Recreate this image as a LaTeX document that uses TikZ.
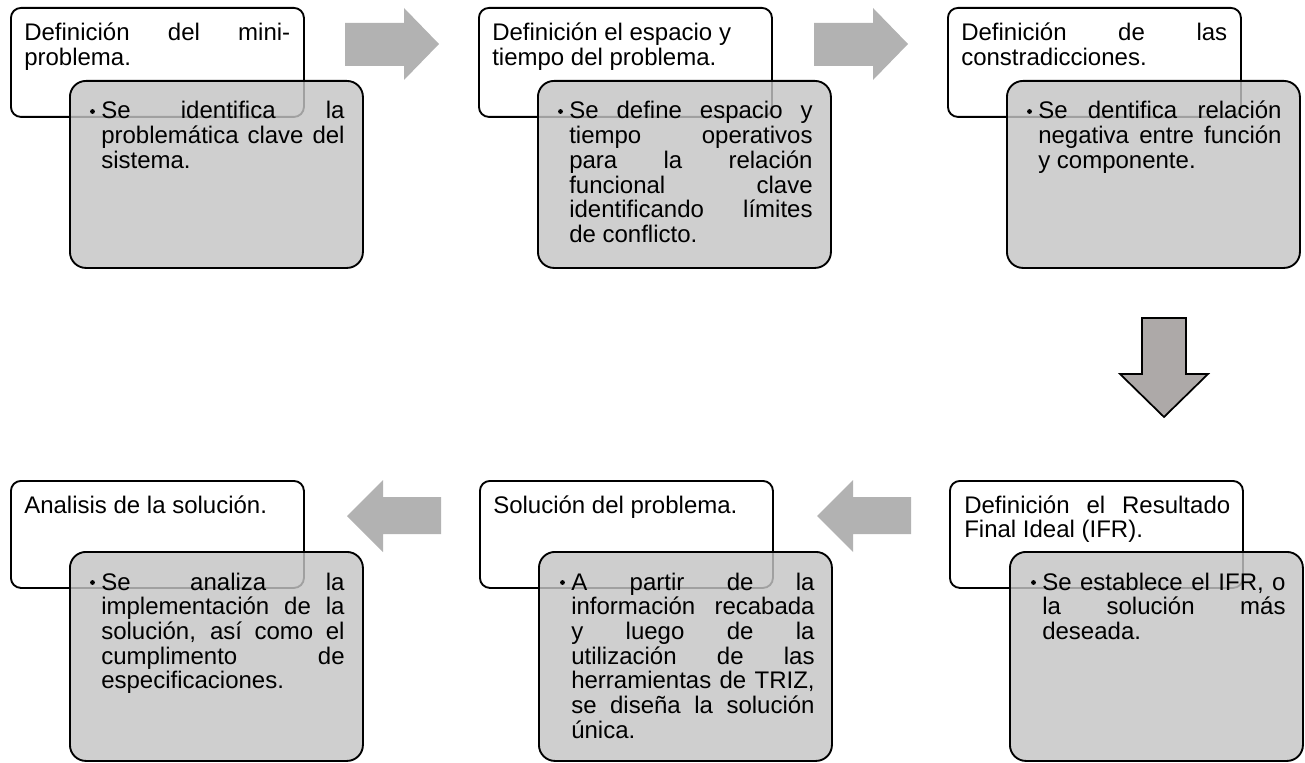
\documentclass[tikz,border=0pt]{standalone}
\usepackage{fontspec}
\setmainfont{Liberation Sans}
\definecolor{boxgray}{RGB}{196,196,196}
\definecolor{arrowgray}{RGB}{178,178,178}
\definecolor{downgray}{RGB}{173,169,168}
\tikzset{
  whitebox/.style={draw, line width=1.4pt, rounded corners=7.5pt, fill=white,
    anchor=north west, inner sep=0pt, minimum width=293*0.75pt, minimum height=#1*0.75pt},
  graybox/.style={draw, line width=1.4pt, rounded corners=12pt, fill=boxgray, fill opacity=0.82,
    anchor=north west, inner sep=0pt, minimum width=293*0.75pt, minimum height=#1*0.75pt},
  titletext/.style={anchor=base west, inner sep=0pt, text width=199.5pt, align=justify,
    font=\fontsize{18pt}{18.5pt}\selectfont},
  bodytext/.style={anchor=base west, inner sep=0pt, text width=182.5pt, align=justify,
    font=\fontsize{18pt}{18.5pt}\selectfont},
  blockarrow/.style={fill=arrowgray},
  downarrow/.style={fill=downgray, draw=black, line width=1.3pt, line join=miter},
  bulletdot/.style={fill=black}
}
\begin{document}
\hyphenpenalty=10000
\tolerance=10000
\hbadness=10000
\begin{tikzpicture}[x=0.75pt,y=-0.75pt]
\useasboundingbox (0,0) rectangle (1305,763);

% ---------- step 1 ----------
\node[whitebox=109] (w1) at (10,7) {};
\node[titletext] (t1) at (24,41) {Definición del mini-\linebreak problema.};
\node[graybox=187] (g1) at (69,80) {};
\node[bodytext] (c1) at (101,119) {Se identifica la\linebreak problemática clave del\linebreak sistema.};
\fill[bulletdot] (c1.base west) ++(-8.5,-7.5) circle[radius=1.8pt];

% ---------- step 2 ----------
\node[whitebox=109] (w2) at (478,7) {};
\node[titletext] (t2) at (492,41) {Definición el espacio y\newline tiempo del problema.};
\node[graybox=187] (g2) at (537,80) {};
\node[bodytext] (c2) at (569,119) {Se define espacio y\linebreak tiempo operativos\linebreak para la relación\linebreak funcional clave\linebreak identificando límites\linebreak de conflicto.};
\fill[bulletdot] (c2.base west) ++(-8.5,-7.5) circle[radius=1.8pt];

% ---------- step 3 ----------
\node[whitebox=109] (w3) at (947,7) {};
\node[titletext] (t3) at (961,41) {Definición de las\linebreak constradicciones.};
\node[graybox=187] (g3) at (1006,80) {};
\node[bodytext] (c3) at (1038,119) {Se dentifica relación\linebreak negativa entre función\linebreak y componente.};
\fill[bulletdot] (c3.base west) ++(-8.5,-7.5) circle[radius=1.8pt];

% ---------- step 4 (bottom right) ----------
\node[whitebox=107] (w6) at (949,480) {};
\node[titletext] (t6) at (964,513) {Definición el Resultado\linebreak Final Ideal (IFR).};
\node[graybox=209] (g6) at (1009,551) {};
\node[bodytext] (c6) at (1042,590) {Se establece el IFR, o\linebreak la solución más\linebreak deseada.};
\fill[bulletdot] (c6.base west) ++(-8.5,-7.5) circle[radius=1.8pt];

% ---------- step 5 (bottom middle) ----------
\node[whitebox=107] (w5) at (479,480) {};
\node[titletext] (t5) at (493,513) {Solución del problema.};
\node[graybox=209] (g5) at (538,551) {};
\node[bodytext] (c5) at (571,590) {A partir de la\linebreak información recabada\linebreak y luego de la\linebreak utilización de las\linebreak herramientas de TRIZ,\linebreak se diseña la solución\linebreak única.};
\fill[bulletdot] (c5.base west) ++(-8.5,-7.5) circle[radius=1.8pt];

% ---------- step 6 (bottom left) ----------
\node[whitebox=107] (w4) at (10,480) {};
\node[titletext] (t4) at (24,513) {Analisis de la solución.};
\node[graybox=209] (g4) at (69,551) {};
\node[bodytext] (c4) at (101,590) {Se analiza la\linebreak implementación de la\linebreak solución, así como el\linebreak cumplimento de\linebreak especificaciones.};
\fill[bulletdot] (c4.base west) ++(-8.5,-7.5) circle[radius=1.8pt];

% ---------- block arrows ----------
\fill[blockarrow] (345,23) -- (404,23) -- (404,8) -- (439,44) -- (404,80) -- (404,66) -- (345,66) -- cycle;
\fill[blockarrow] (814,23) -- (873,23) -- (873,8) -- (908,44) -- (873,80) -- (873,66) -- (814,66) -- cycle;
\draw[downarrow] (1142,318) -- (1186,318) -- (1186,374) -- (1208,374) -- (1164,417) -- (1120,374) -- (1142,374) -- cycle;
\fill[blockarrow] (911,497) -- (853,497) -- (853,480) -- (817,516) -- (853,552) -- (853,534) -- (911,534) -- cycle;
\fill[blockarrow] (441,497) -- (383,497) -- (383,480) -- (347,516) -- (383,552) -- (383,534) -- (441,534) -- cycle;
\end{tikzpicture}
\end{document}
